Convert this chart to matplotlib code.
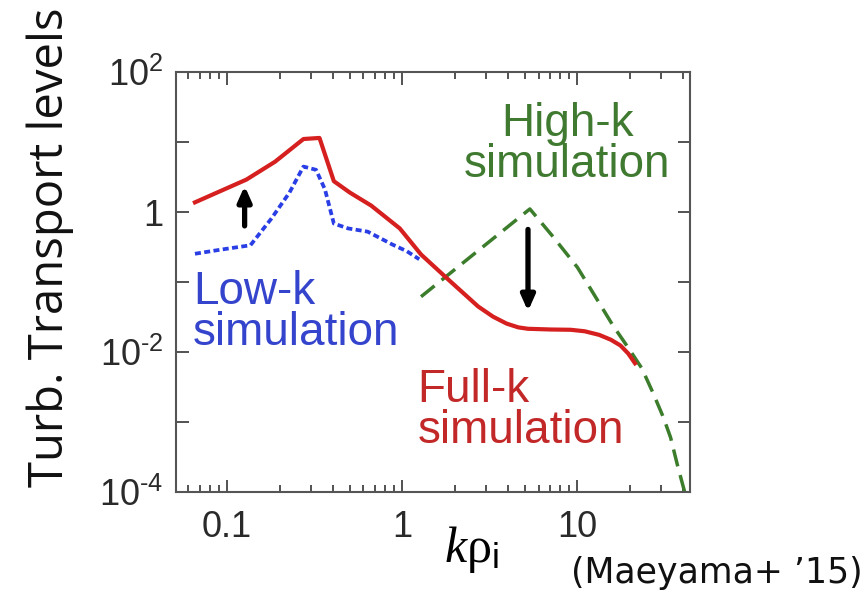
import numpy as np
import matplotlib.pyplot as plt
from matplotlib.ticker import LogLocator, FixedLocator, FixedFormatter, NullLocator

plt.rcParams['mathtext.fontset'] = 'custom'
plt.rcParams['mathtext.rm'] = 'Liberation Serif'
plt.rcParams['mathtext.it'] = 'Liberation Serif:italic'
plt.rcParams['mathtext.sf'] = 'Liberation Sans'

# full-k (red), low-k (blue), high-k (green) spectra
full_k = [0.0656, 0.129, 0.188, 0.273, 0.337, 0.407, 0.503, 0.665, 0.968, 1.28, 1.86, 2.71, 3.3, 3.94, 4.6, 5.22, 7.0, 9.15, 11.0, 13.3, 15.5, 17.6, 19.5, 21.3]
full_q = [1.38, 2.92, 5.26, 11.1, 11.5, 2.77, 1.90, 1.24, 0.585, 0.248, 0.105, 0.0448, 0.032, 0.0255, 0.0225, 0.0215, 0.021, 0.0208, 0.0198, 0.0176, 0.0150, 0.0124, 0.0095, 0.0069]

low_k = [0.0656, 0.093, 0.136, 0.179, 0.227, 0.273, 0.322, 0.362, 0.407, 0.491, 0.635, 0.881, 1.06, 1.25]
low_q = [0.254, 0.292, 0.336, 0.807, 1.90, 4.48, 4.03, 2.12, 0.687, 0.585, 0.526, 0.343, 0.277, 0.212]

high_k = [1.28, 5.35, 7.24, 10, 12.5, 16.0, 19.5, 23.3, 27, 30.9, 34, 37.3, 40.9]
high_q = [0.0618, 1.11, 0.448, 0.162, 0.065, 0.0236, 0.0115, 0.00585, 0.0026, 0.00117, 0.0006, 0.000236, 0.0001]

ytick_vals = [1e-4, 1e-3, 1e-2, 1e-1, 1, 10, 100]
ytick_labels = [r'$\mathsf{10^{‐4}}$', '', r'$\mathsf{10^{‐2}}$', '', '1', '', r'$\mathsf{10^{2}}$']
xtick_vals = [0.1, 1, 10]
xtick_labels = ['0.1', '1', '10']

fig = plt.figure(figsize=(8.66, 5.97), dpi=100)
ax = fig.add_axes([0.203, 0.176, 0.594, 0.703])

ax.plot(full_k, full_q, color='#d61f1f', lw=3.0, zorder=3)
ax.plot(low_k, low_q, color='#2a3ee6', lw=2.7, dashes=(1.6, 0.9), zorder=3)
ax.plot(high_k, high_q, color='#3c7d2c', lw=2.5, dashes=(5, 2.6), zorder=2)

ax.annotate('', xy=(0.126, 2.6), xytext=(0.126, 0.58),
            arrowprops=dict(arrowstyle='-|>,head_width=0.4,head_length=0.9', lw=3.8, color='black'))
ax.annotate('', xy=(5.22, 0.035), xytext=(5.22, 0.62),
            arrowprops=dict(arrowstyle='-|>,head_width=0.4,head_length=0.9', lw=3.8, color='black'))

ax.set_xscale('log')
ax.set_yscale('log')
ax.set_xlim(0.051, 44)
ax.set_ylim(1e-4, 1e2)

ax.xaxis.set_major_locator(FixedLocator(xtick_vals))
ax.xaxis.set_major_formatter(FixedFormatter(xtick_labels))
ax.xaxis.set_minor_locator(LogLocator(base=10, subs=np.arange(2, 10)))
ax.yaxis.set_major_locator(FixedLocator(ytick_vals))
ax.yaxis.set_major_formatter(FixedFormatter(ytick_labels))
ax.yaxis.set_minor_locator(NullLocator())
ax.tick_params(which='both', direction='in', top=True, right=True, colors='#444444',
               labelcolor='#2a2a2a', labelsize=26, width=1.3)
ax.tick_params(which='major', length=9)
ax.tick_params(axis='y', which='major', pad=9)
ax.tick_params(axis='x', which='major', pad=13)
ax.tick_params(which='minor', length=5)
for lab in ax.get_xticklabels() + ax.get_yticklabels():
    lab.set_fontfamily('Liberation Sans')
for s in ax.spines.values():
    s.set_color('#555555')
    s.set_linewidth(1.5)

ax.text(0.0638, 0.0126, 'Low-k\nsimulation', color='#3444cc', fontsize=33, family='Liberation Sans',
        ha='left', va='baseline', linespacing=0.92)
ax.text(1.22, 5.0e-4, 'Full-k\nsimulation', color='#c32828', fontsize=33, family='Liberation Sans',
        ha='left', va='baseline', linespacing=0.92)
ax.text(8.75, 3.16, 'High-k\nsimulation', color='#3f7a30', fontsize=33, family='Liberation Sans',
        ha='center', va='baseline', linespacing=0.92)

fig.text(0.058, 0.586, 'Turb. Transport levels', rotation=90, fontsize=34, family='Open Sans',
         ha='center', va='center', color='#111111')
fig.text(0.545, 0.059, r'$k$ρ$_\mathsf{i}$', fontsize=36, family='Liberation Serif',
         ha='center', va='baseline')
fig.text(0.996, 0.04, "(Maeyama+ ’15)", fontsize=25, family='DejaVu Sans',
         ha='right', va='center', color='#111111')

fig.savefig('out.png', dpi=100)
